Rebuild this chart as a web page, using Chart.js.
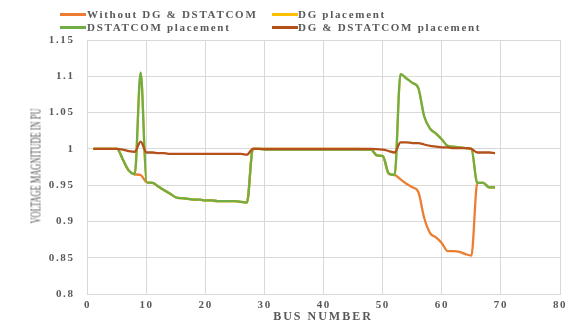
<!DOCTYPE html>
<html>
<head>
<meta charset="utf-8">
<script src="https://cdn.jsdelivr.net/npm/chart.js@4/dist/chart.umd.min.js"></script>
<style>
  html,body{margin:0;padding:0;background:#fff;}
  #wrap{position:relative;width:575px;height:328px;background:#fff;overflow:hidden;}
  #c{position:absolute;left:0;top:0;}
  .lg{position:absolute;font-family:"Liberation Serif",serif;font-weight:bold;font-size:11px;letter-spacing:1.7px;color:#595959;white-space:nowrap;line-height:12px;}
  .sw{position:absolute;height:2.5px;width:26px;}
  #ytitle{position:absolute;left:36px;top:166px;font-family:"Liberation Serif",serif;font-size:15px;color:#595959;white-space:nowrap;transform:translate(-50%,-50%) rotate(-90deg) scaleX(0.56);}
  #xtitle{position:absolute;left:323px;top:316px;font-family:"Liberation Serif",serif;font-weight:bold;font-size:12px;letter-spacing:2px;color:#595959;white-space:nowrap;transform:translate(-50%,-50%);}
</style>
</head>
<body>
<div id="wrap">
  <canvas id="c" width="575" height="328"></canvas>
  <div class="sw" style="left:60px;top:13px;background:#ED7D31"></div>
  <div class="lg" style="left:87px;top:8px">Without DG &amp; DSTATCOM</div>
  <div class="sw" style="left:272px;top:13px;background:#FFC000"></div>
  <div class="lg" style="left:298px;top:8px">DG placement</div>
  <div class="sw" style="left:60px;top:26px;background:#70AD47"></div>
  <div class="lg" style="left:87px;top:21px">DSTATCOM placement</div>
  <div class="sw" style="left:272px;top:26px;background:#B4501A"></div>
  <div class="lg" style="left:298px;top:21px">DG &amp; DSTATCOM placement</div>
  <div id="ytitle">VOLTAGE MAGNITUDE IN PU</div>
  <div id="xtitle">BUS NUMBER</div>
</div>
<script>
const busNumbers = [1,2,3,4,5,6,7,8,9,10,11,12,13,14,15,16,17,18,19,20,21,22,23,24,25,26,27,28,29,30,31,32,33,34,35,36,37,38,39,40,41,42,43,44,45,46,47,48,49,50,51,52,53,54,55,56,57,58,59,60,61,62,63,64,65,66,67,68,69];

const withoutDG = [1.000,1.000,1.000,1.000,1.000,0.985,0.970,0.965,0.964,0.954,
  0.953,0.948,0.943,0.938,0.933,0.932,0.931,0.930,0.930,0.929,
  0.929,0.928,0.928,0.928,0.928,0.927,0.926,1.000,1.000,0.999,
  0.999,0.999,0.999,0.999,0.999,0.999,0.999,0.999,0.999,0.999,
  0.999,0.999,0.999,0.999,0.999,0.999,0.999,0.999,0.991,0.990,
  0.966,0.964,0.958,0.952,0.947,0.941,0.905,0.884,0.878,0.870,
  0.859,0.859,0.858,0.855,0.853,0.953,0.953,0.947,0.947];

const dgPlacement = [1.000,1.000,1.000,1.000,1.000,0.985,0.970,0.965,1.105,0.954,
  0.953,0.948,0.943,0.938,0.933,0.932,0.931,0.930,0.930,0.929,
  0.929,0.928,0.928,0.928,0.928,0.927,0.926,1.000,1.000,1.000,
  1.000,1.000,1.000,1.000,1.000,1.000,1.000,1.000,1.000,1.000,
  1.000,1.000,1.000,1.000,1.000,1.000,0.999,0.999,0.991,0.990,
  0.966,0.964,1.103,1.097,1.091,1.084,1.045,1.028,1.021,1.013,
  1.004,1.003,1.002,1.001,1.000,0.953,0.953,0.947,0.947];

const dstatcomPlacement = [1.000,1.000,1.000,1.000,1.000,0.985,0.970,0.965,1.105,0.954,
  0.953,0.948,0.943,0.938,0.933,0.932,0.931,0.930,0.930,0.929,
  0.929,0.928,0.928,0.928,0.928,0.927,0.926,1.000,1.000,0.999,
  0.999,0.999,0.999,0.999,0.999,0.999,0.999,0.999,0.999,0.999,
  0.999,0.999,0.999,0.999,0.999,0.999,0.999,0.999,0.991,0.990,
  0.966,0.964,1.103,1.097,1.091,1.084,1.045,1.028,1.021,1.013,
  1.004,1.003,1.002,1.001,1.000,0.953,0.953,0.947,0.947];

const dgDstatcom = [1.000,1.000,1.000,1.000,1.000,0.999,0.997,0.996,1.010,0.995,
  0.995,0.994,0.994,0.993,0.993,0.993,0.993,0.993,0.993,0.993,
  0.993,0.993,0.993,0.993,0.993,0.993,0.992,1.000,1.000,1.000,
  1.000,1.000,1.000,1.000,1.000,1.000,1.000,1.000,1.000,1.000,
  1.000,1.000,1.000,1.000,1.000,1.000,1.000,1.000,0.9995,0.999,
  0.997,0.995,1.009,1.009,1.008,1.008,1.006,1.004,1.003,1.002,
  1.002,1.001,1.001,1.001,1.000,0.995,0.995,0.995,0.994];

const xTicks = [0,10,20,30,40,50,60,70,80];
const yTicks = [0.8,0.85,0.9,0.95,1,1.05,1.1,1.15];

const toPts = arr => busNumbers.map((b,i)=>({x:b,y:arr[i]}));

const spacingPlugin = {
  id:'spacing',
  beforeUpdate(chart){ chart.ctx.letterSpacing='1.6px'; },
  beforeLayout(chart){ chart.ctx.letterSpacing='1.6px'; },
  beforeDraw(chart){ chart.ctx.letterSpacing='1.6px'; }
};

const mk = (label, data, color, order) => ({
  label, data: toPts(data), borderColor: color, backgroundColor: color,
  borderWidth: 2.3, pointRadius: 0, fill: false, order,
  cubicInterpolationMode: 'monotone', tension: 0.4
});

new Chart(document.getElementById('c'), {
  type: 'line',
  data: {
    datasets: [
      mk('Without DG & DSTATCOM', withoutDG, '#ED7D31', 4),
      mk('DG placement', dgPlacement, '#FFC000', 3),
      mk('DSTATCOM placement', dstatcomPlacement, '#70AD47', 2),
      mk('DG & DSTATCOM placement', dgDstatcom, '#B4501A', 1)
    ]
  },
  plugins: [spacingPlugin],
  options: {
    responsive: false,
    animation: false,
    layout: { padding: { top: 40, right: 15, left: 0, bottom: 0 } },
    plugins: { legend: { display: false }, tooltip: { enabled: false } },
    scales: {
      x: {
        type: 'linear', min: 0, max: 80,
        afterBuildTicks: s => { s.ticks = xTicks.map(v=>({value:v})); },
        afterFit: s => { s.height = 34; },
        grid: { color: '#d9d9d9', drawTicks: false },
        border: { color: '#d9d9d9' },
        ticks: { padding: 5, color: '#595959', font: { family: 'Liberation Serif', weight: 'bold', size: 11 } }
      },
      y: {
        type: 'linear', min: 0.8, max: 1.15,
        afterBuildTicks: s => { s.ticks = yTicks.map(v=>({value:v})); },
        afterFit: s => { s.width = 87.5; },
        grid: { color: '#d9d9d9', drawTicks: false },
        border: { color: '#d9d9d9' },
        ticks: { padding: 13, color: '#595959', font: { family: 'Liberation Serif', weight: 'bold', size: 11 },
          callback: v => String(Math.round(v*100)/100) }
      }
    }
  }
});
</script>
</body>
</html>
